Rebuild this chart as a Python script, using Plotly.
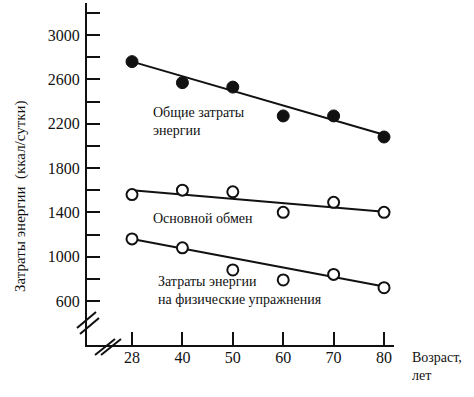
import plotly.graph_objects as go

# ---- data ----
ages = ["28", "40", "50", "60", "70", "80"]
total_energy = [2760, 2570, 2530, 2270, 2270, 2080]
basal_metab = [1560, 1600, 1585, 1400, 1490, 1400]
exercise_energy = [1160, 1080, 880, 790, 840, 720]

trend_ages = ["28", "80"]
trend_total = [2760, 2100]
trend_basal = [1600, 1405]
trend_exercise = [1160, 730]

y_ticks = [600, 800, 1000, 1200, 1400, 1600, 1800, 2000, 2200, 2400, 2600, 2800, 3000, 3200]
y_tick_labels = ["600", "", "1000", "", "1400", "", "1800", "", "2200", "", "2600", "", "3000", ""]

idx = {a: i for i, a in enumerate(ages)}
xs = [idx[a] for a in ages]
txs = [idx[a] for a in trend_ages]

W, H = 474, 397
L, R, T, B = 87, 80, 3, 52
PW, PH = W - L - R, H - T - B

def px(x):
    return (x - L) / PW

def py(y):
    return (H - B - y) / PH

fig = go.Figure()
black = "#111111"
for tv in (trend_total, trend_basal, trend_exercise):
    fig.add_trace(go.Scatter(x=txs, y=tv, mode="lines",
                             line=dict(color=black, width=2), showlegend=False,
                             hoverinfo="skip"))

fig.add_trace(go.Scatter(x=xs, y=total_energy, mode="markers",
                         marker=dict(color=black, size=12, line=dict(color=black, width=1)),
                         showlegend=False))
for ser in (basal_metab, exercise_energy):
    fig.add_trace(go.Scatter(x=xs, y=ser, mode="markers",
                             marker=dict(color="white", size=11, line=dict(color=black, width=2)),
                             showlegend=False))

serif = "Liberation Serif"
fig.update_layout(
    width=W, height=H,
    margin=dict(l=L, r=R, t=T, b=B, pad=0),
    paper_bgcolor="white", plot_bgcolor="white",
    xaxis=dict(range=[-0.893, 5.198], tickvals=xs, ticktext=ages,
               showgrid=False, zeroline=False, showline=True, linecolor=black, linewidth=2,
               ticks="inside", ticklen=13, tickwidth=2, tickcolor=black,
               ticklabelstandoff=-3,
               tickfont=dict(family=serif, size=16, color=black)),
    yaxis=dict(range=[203, 3289], tickvals=y_ticks, ticktext=y_tick_labels,
               showgrid=False, zeroline=False, showline=True, linecolor=black, linewidth=2,
               ticks="inside", ticklen=13, tickwidth=2, tickcolor=black,
               ticklabelstandoff=2,
               tickfont=dict(family=serif, size=16, color=black)),
    font=dict(family=serif, color=black),
)

ann_font = dict(family=serif, size=14, color=black)
fig.add_annotation(x=px(151), y=py(103), xref="paper", yref="paper", xanchor="left", yanchor="top",
                   text="Общие затраты<br>энергии", showarrow=False, align="left", font=ann_font)
fig.add_annotation(x=px(151), y=py(209), xref="paper", yref="paper", xanchor="left", yanchor="top",
                   text="Основной обмен", showarrow=False, align="left", font=ann_font)
fig.add_annotation(x=px(156), y=py(272), xref="paper", yref="paper", xanchor="left", yanchor="top",
                   text="Затраты энергии<br>на физические упражнения", showarrow=False, align="left", font=ann_font)
fig.add_annotation(x=px(410), y=py(348), xref="paper", yref="paper", xanchor="left", yanchor="top",
                   text="Возраст,<br>лет", showarrow=False, align="left", font=ann_font)
fig.add_annotation(x=px(20), y=py(196), xref="paper", yref="paper", xanchor="center", yanchor="middle",
                   text="Затраты энергии  (ккал/сутки)", showarrow=False, textangle=-90,
                   font=dict(family=serif, size=15, color=black))

# axis break marks
for (x0, y0, x1, y1) in [(77, 328, 96, 312), (80, 334, 99, 318),
                         (95, 355, 115, 339), (101, 355, 121, 339)]:
    fig.add_shape(type="line", xref="paper", yref="paper",
                  x0=px(x0), y0=py(y0), x1=px(x1), y1=py(y1),
                  line=dict(color=black, width=2))

fig.write_html("out.html", config={"displayModeBar": False},
               post_script="document.body.style.margin='0px';")
